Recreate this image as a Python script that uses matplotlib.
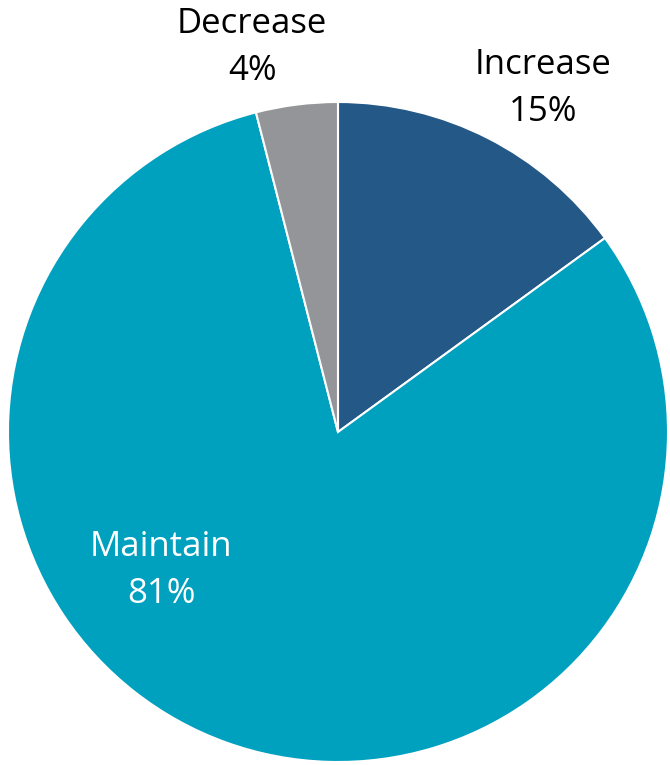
import matplotlib.pyplot as plt

labels = ['Increase', 'Maintain', 'Decrease']
shares = [15, 81, 4]
colors = ['#245886', '#00A0BF', '#939598']

plt.rcParams['font.family'] = ['Open Sans', 'DejaVu Sans']

fig = plt.figure(figsize=(6.7, 7.65), dpi=100)
ax = fig.add_axes([8 / 670, 3 / 765, 660 / 670, 660 / 765])
ax.pie(shares, colors=colors, startangle=90, counterclock=False, radius=1,
       wedgeprops=dict(edgecolor='white', linewidth=1.5))
ax.set_xlim(-1, 1)
ax.set_ylim(-1, 1)
ax.set_aspect('equal')
ax.axis('off')

# label positions in pie units
label_pos = [(0.62, 1.04, 'black'), (-0.536, -0.42, 'white'), (-0.26, 1.165, 'black')]
for lab, val, (x, y, c) in zip(labels, shares, label_pos):
    ax.text(x, y, f'{lab}\n{val}%', ha='center', va='center', color=c,
            fontsize=25, linespacing=1.5, clip_on=False)

fig.savefig('out.png', dpi=100)
